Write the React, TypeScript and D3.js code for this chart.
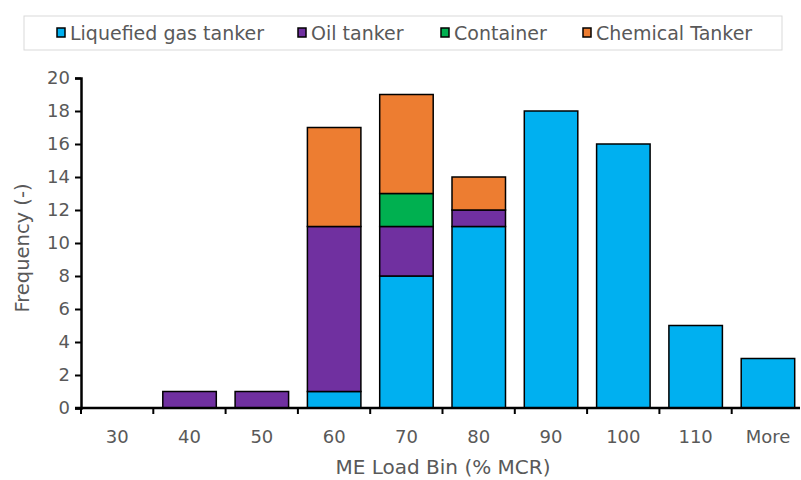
import React, { useEffect, useRef } from 'react';
import * as d3 from 'd3';

const categories = ['30', '40', '50', '60', '70', '80', '90', '100', '110', 'More'];
const seriesNames = ['Liquefied gas tanker', 'Oil tanker', 'Container', 'Chemical Tanker'];
const liquefied = [0, 0, 0, 1, 8, 11, 18, 16, 5, 3];
const oil = [0, 1, 1, 10, 3, 1, 0, 0, 0, 0];
const container = [0, 0, 0, 0, 2, 0, 0, 0, 0, 0];
const chemical = [0, 0, 0, 6, 6, 2, 0, 0, 0, 0];
const colors = ['#00b0f0', '#7030a0', '#00b050', '#ed7d31'];
const yTicks = [0, 2, 4, 6, 8, 10, 12, 14, 16, 18, 20];

const W = 801;
const H = 480;
const FONT = "'DejaVu Sans', sans-serif";
const TEXT = '#595959';

export default function App() {
  const svgRef = useRef<SVGSVGElement>(null);

  useEffect(() => {
    if (!svgRef.current) return;
    const svg = d3.select(svgRef.current);
    svg.selectAll('*').remove();

    const left = 81, axisRight = 800, top = 78, bottom = 408;

    // one band per bin; bars are inset within the band
    const x = d3.scaleBand().domain(categories).range([left, left + 723]).padding(0);
    const inset = 9.5;
    const barW = 53.5;
    const y = d3.scaleLinear().domain([0, 20]).range([bottom, top]);

    const rows = categories.map((c, i) => ({
      cat: c,
      s0: liquefied[i],
      s1: oil[i],
      s2: container[i],
      s3: chemical[i],
    }));
    const stacked = d3.stack<any>().keys(['s0', 's1', 's2', 's3'])(rows);

    // bars
    stacked.forEach((layer, li) => {
      svg.append('g')
        .selectAll('rect')
        .data(layer.filter(d => d[1] - d[0] > 0))
        .join('rect')
        .attr('x', d => x(d.data.cat)! + inset)
        .attr('width', barW)
        .attr('y', d => y(d[1]))
        .attr('height', d => y(d[0]) - y(d[1]))
        .attr('fill', colors[li])
        .attr('stroke', '#000')
        .attr('stroke-width', 1.5);
    });

    // y axis
    const yAxis = svg.append('g')
      .attr('transform', `translate(${left},0)`)
      .call(d3.axisLeft(y).tickValues(yTicks).tickSize(6).tickPadding(5));
    yAxis.select('.domain').attr('stroke', '#000').attr('stroke-width', 2.5);
    yAxis.selectAll('.tick line').attr('stroke', '#000').attr('stroke-width', 2);
    yAxis.selectAll('.tick text')
      .attr('fill', TEXT)
      .attr('font-family', FONT)
      .attr('font-size', 18);

    // x axis
    svg.append('line')
      .attr('x1', left - 6).attr('x2', axisRight)
      .attr('y1', bottom).attr('y2', bottom)
      .attr('stroke', '#000').attr('stroke-width', 2.5);
    svg.append('g')
      .selectAll('line')
      .data(categories)
      .join('line')
      .attr('x1', d => x(d)!).attr('x2', d => x(d)!)
      .attr('y1', bottom).attr('y2', bottom + 6)
      .attr('stroke', '#000').attr('stroke-width', 2);

    svg.append('g')
      .selectAll('text')
      .data(categories)
      .join('text')
      .attr('x', d => x(d)! + inset + barW / 2)
      .attr('y', 443)
      .attr('text-anchor', 'middle')
      .attr('fill', TEXT)
      .attr('font-family', FONT)
      .attr('font-size', 18)
      .text(d => d);

    // axis titles
    svg.append('text')
      .attr('x', 443).attr('y', 474)
      .attr('text-anchor', 'middle')
      .attr('fill', TEXT)
      .attr('font-family', FONT)
      .attr('font-size', 20)
      .text('ME Load Bin (% MCR)');

    svg.append('text')
      .attr('transform', `translate(29,${(top + bottom) / 2 + 5}) rotate(-90)`)
      .attr('text-anchor', 'middle')
      .attr('fill', TEXT)
      .attr('font-family', FONT)
      .attr('font-size', 19.5)
      .text('Frequency (-)');

    // legend
    svg.append('rect')
      .attr('x', 24).attr('y', 16)
      .attr('width', 758).attr('height', 34)
      .attr('fill', '#fff')
      .attr('stroke', '#d9d9d9')
      .attr('stroke-width', 1);

    const legendX = [57, 298, 441, 583];
    const lg = svg.append('g')
      .selectAll('g')
      .data(seriesNames)
      .join('g')
      .attr('transform', (d, i) => `translate(${legendX[i]},33)`);
    lg.append('rect')
      .attr('x', 0).attr('y', -5)
      .attr('width', 8).attr('height', 9)
      .attr('fill', (d, i) => colors[i])
      .attr('stroke', '#000')
      .attr('stroke-width', 1.5);
    lg.append('text')
      .attr('x', 13).attr('y', 7)
      .attr('fill', TEXT)
      .attr('font-family', FONT)
      .attr('font-size', 19)
      .text(d => d);
  }, []);

  return (
    <svg ref={svgRef} width={W} height={H} style={{ position: 'absolute', left: 0, top: 0, background: '#fff' }} />
  );
}
